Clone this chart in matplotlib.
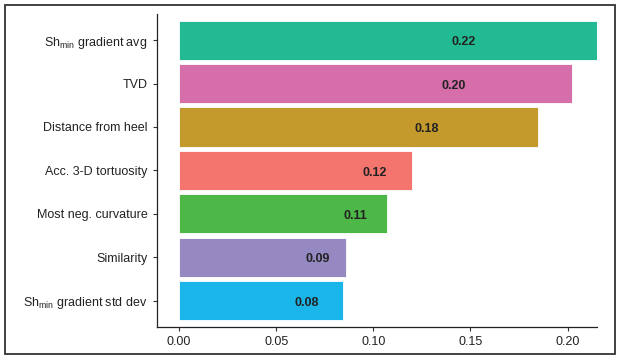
import matplotlib
matplotlib.use("Agg")
import matplotlib.pyplot as plt
from matplotlib.patches import Rectangle

plt.rcParams['font.family'] = ['Liberation Sans', 'DejaVu Sans']
plt.rcParams['mathtext.fontset'] = 'custom'
plt.rcParams['mathtext.rm'] = 'Liberation Sans'

# feature importance, top to bottom
features = [r'Sh$_{\mathrm{min}}$ gradient avg', 'TVD', 'Distance from heel',
            'Acc. 3-D tortuosity', 'Most neg. curvature', 'Similarity',
            r'Sh$_{\mathrm{min}}$ gradient std dev']
importance = [0.2154, 0.2023, 0.1848, 0.1197, 0.1068, 0.0857, 0.0845]
labels = ['0.22', '0.20', '0.18', '0.12', '0.11', '0.09', '0.08']
colors = ['#22BA92', '#D66EAA', '#C49A2C', '#F3756D', '#4DB748', '#9689C2', '#1BB6E9']
# where along each bar the value label sits
label_frac = [0.68, 0.70, 0.69, 0.84, 0.85, 0.835, 0.78]

fig = plt.figure(figsize=(6.2, 3.61), dpi=100)
ax = fig.add_axes([0.2537, 0.095, 0.963 - 0.2537, 0.961 - 0.095])

y = list(range(len(features)))
ax.barh(y, importance, height=0.9, color=colors, edgecolor='white', linewidth=0.6)

for yi, v, lab, f in zip(y, importance, labels, label_frac):
    ax.text(v * f, yi + 0.05, lab, ha='center', va='center', fontsize=9,
            fontweight='bold', color='#222222')

ax.set_yticks(y)
ax.set_yticklabels(features)
ax.set_ylim(len(features) - 0.4, -0.6)
ax.set_xlim(-0.0112, 0.2152)
ax.set_xticks([0.0, 0.05, 0.10, 0.15, 0.20])
ax.set_xticklabels(['0.00', '0.05', '0.10', '0.15', '0.20'])

for s in ['top', 'right']:
    ax.spines[s].set_visible(False)
for s in ['left', 'bottom']:
    ax.spines[s].set_linewidth(0.9)
    ax.spines[s].set_color('#222222')
ax.tick_params(axis='both', length=3, width=0.8, color='#333333',
               labelsize=9, labelcolor='#222222', pad=4)

# outer frame round the whole figure
fig.patches.append(Rectangle((5 / 620, 7 / 361), 610 / 620, 349 / 361,
                             transform=fig.transFigure, fill=False,
                             edgecolor='#333333', linewidth=1.3))

fig.savefig('out.png', dpi=100)
